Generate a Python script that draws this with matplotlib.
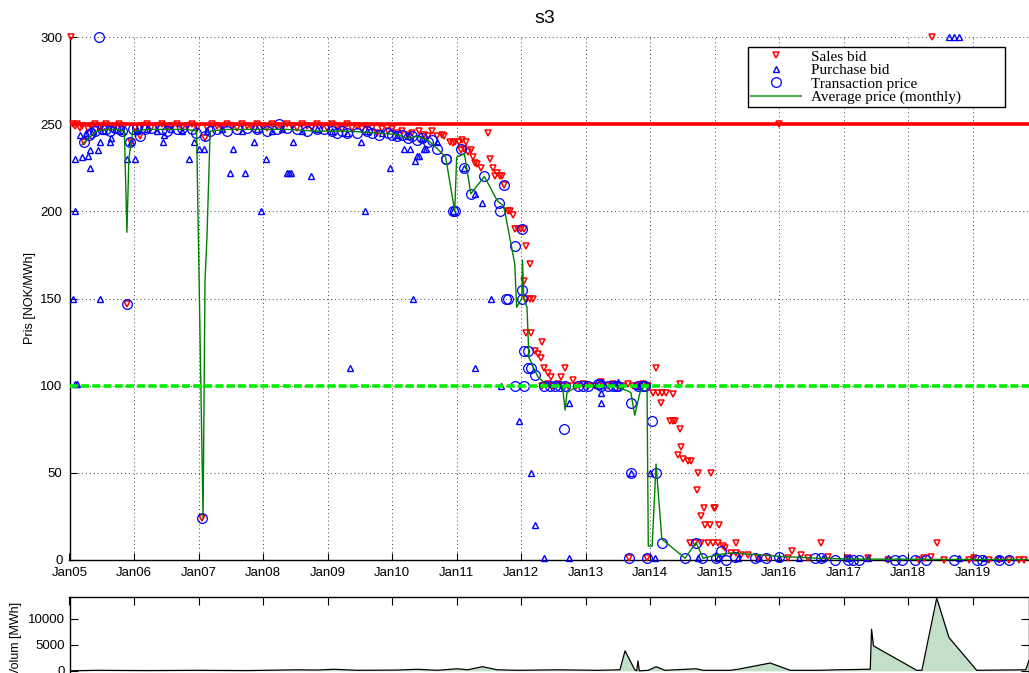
import matplotlib
matplotlib.use("Agg")
import matplotlib.pyplot as plt
from matplotlib.lines import Line2D

plt.rcParams['font.family'] = ['Liberation Sans', 'DejaVu Sans']

# ---------------- data ----------------
years = list(range(2005, 2020))
year_labels = ["Jan%02d" % (y % 100) for y in years]

sales_t = [2005.03, 2005.05, 2005.09, 2005.12, 2005.16, 2005.20, 2005.23, 2005.28, 2005.34, 2005.39, 2005.45, 2005.50,
           2005.57, 2005.62, 2005.70, 2005.76, 2005.85, 2005.89, 2005.96, 2006.01, 2006.09, 2006.12, 2006.20, 2006.27,
           2006.35, 2006.43, 2006.51, 2006.58, 2006.66, 2006.74, 2006.82, 2006.90, 2006.97, 2007.05, 2007.10, 2007.13,
           2007.21, 2007.28, 2007.36, 2007.44, 2007.52, 2007.59, 2007.67, 2007.75, 2007.83, 2007.91, 2007.98, 2008.06,
           2008.14, 2008.22, 2008.29, 2008.37, 2008.45, 2008.53, 2008.60, 2008.68, 2008.76, 2008.84, 2008.92, 2008.99,
           2009.07, 2009.15, 2009.23, 2009.30, 2009.38, 2009.46, 2009.54, 2009.61, 2009.69, 2009.77, 2009.85, 2009.93,
           2010.00, 2010.08, 2010.16, 2010.24, 2010.31, 2010.42, 2010.50, 2010.55, 2010.62, 2010.70, 2010.78, 2010.81,
           2010.89, 2010.94, 2010.98, 2011.03, 2011.09, 2011.14, 2011.06, 2011.12, 2011.17, 2011.22, 2011.25, 2011.29,
           2011.32, 2011.37, 2011.48, 2011.51, 2011.56, 2011.60, 2011.63, 2011.67, 2011.70, 2011.74, 2011.79, 2011.82,
           2011.87, 2011.90, 2011.95, 2011.99, 2012.04, 2012.07, 2012.13, 2012.05, 2012.07, 2012.13, 2012.19, 2012.07,
           2012.15, 2012.32, 2012.21, 2012.26, 2012.30, 2012.36, 2012.41, 2012.46, 2012.68, 2012.61, 2012.80, 2012.33,
           2012.41, 2012.49, 2012.57, 2012.64, 2012.72, 2012.85, 2012.96, 2013.03, 2013.14, 2013.24, 2013.34, 2013.42,
           2013.50, 2013.58, 2013.65, 2013.73, 2013.81, 2013.89, 2013.97, 2014.09, 2014.46, 2014.04, 2014.12, 2014.18,
           2014.25, 2014.35, 2014.17, 2014.31, 2014.35, 2014.38, 2014.46, 2014.48, 2014.43, 2014.51, 2014.59, 2014.63,
           2014.74, 2014.94, 2014.73, 2014.84, 2014.99, 2015.01, 2014.79, 2014.85, 2014.93, 2015.07, 2014.62, 2014.70,
           2014.79, 2014.90, 2014.98, 2015.05, 2015.12, 2015.16, 2015.33, 2015.25, 2015.33, 2015.41, 2015.52, 2016.19,
           2016.34, 2016.64, 2018.44, 2018.35, 2018.36, 2015.99, 2013.67, 2013.95, 2015.67, 2015.83, 2016.14, 2016.45,
           2016.76, 2017.07, 2017.38, 2017.69, 2018.16, 2018.24, 2018.55, 2018.94, 2019.01, 2019.25, 2019.40, 2019.56,
           2019.71, 2019.79]
sales_p = [300, 250, 249, 250, 248, 249, 240, 247, 249, 250, 248, 249,
           250, 248, 249, 250, 249, 147, 240, 248, 243, 249, 250, 248,
           249, 250, 248, 249, 250, 248, 249, 250, 248, 24, 242, 248,
           250, 249, 248, 250, 249, 248, 250, 249, 248, 250, 249, 248,
           250, 249, 248, 250, 249, 248, 250, 249, 248, 250, 249, 248,
           250, 249, 247, 250, 248, 249, 247, 249, 248, 245, 247, 246,
           247, 245, 246, 244, 245, 246, 244, 243, 246, 243, 244, 243,
           240, 239, 240, 240, 241, 240, 235, 236, 234, 235, 231, 228,
           227, 225, 245, 230, 225, 220, 222, 220, 220, 215, 200, 200,
           198, 190, 190, 190, 190, 180, 170, 160, 150, 150, 150, 130,
           130, 125, 120, 118, 116, 110, 107, 105, 110, 105, 103, 100,
           101, 100, 101, 100, 100, 100, 101, 100, 100, 102, 100, 101,
           100, 100, 101, 100, 100, 101, 100, 110, 101, 96, 96, 96,
           96, 95, 90, 80, 80, 80, 75, 65, 60, 58, 57, 57,
           50, 50, 40, 30, 30, 30, 25, 20, 20, 20, 10, 10,
           10, 10, 10, 10, 8, 7, 10, 4, 4, 3, 3, 5,
           3, 10, 10, 2, 300, 250, 1, 1, 1, 1, 1, 1,
           2, 1, 1, 0, 0, 1, 0, 0, 1, 0, 0, 0,
           0, 0]

purchase_t = [2005.09, 2005.06, 2005.48, 2005.08, 2005.12, 2005.09, 2005.20, 2005.28, 2005.31, 2005.31, 2005.44, 2005.47,
              2005.62, 2005.65, 2005.89, 2006.01, 2005.96, 2006.45, 2006.46, 2006.85, 2006.93, 2007.00, 2007.08, 2007.53,
              2007.49, 2007.72, 2007.86, 2008.05, 2008.37, 2008.40, 2008.43, 2008.74, 2008.46, 2009.51, 2009.97, 2010.19,
              2010.35, 2010.38, 2010.50, 2010.28, 2007.97, 2009.58, 2009.34, 2010.33, 2010.94,
              2005.16, 2005.26, 2005.36, 2005.54, 2005.70, 2005.81, 2006.04, 2006.20, 2006.35, 2006.58, 2006.74, 2007.13,
              2007.36, 2007.67, 2007.91, 2008.14, 2008.29, 2008.60, 2008.84, 2009.07, 2009.30, 2009.61, 2009.85, 2010.08,
              2010.24, 2010.47, 2010.70,
              2010.42, 2010.52, 2011.11, 2011.39, 2011.29, 2011.53, 2011.28, 2011.68, 2011.96, 2012.15, 2012.21, 2012.35,
              2012.74, 2012.74, 2013.24, 2013.24, 2013.70, 2014.00, 2014.07, 2013.50, 2013.81, 2014.74, 2015.05, 2015.36,
              2015.67, 2015.99, 2016.30, 2016.68, 2017.07, 2017.38, 2017.69, 2018.63, 2018.70, 2018.78, 2018.78, 2019.17,
              2019.40]
purchase_p = [200, 150, 150, 101, 101, 230, 231, 232, 225, 235, 235, 240,
              240, 242, 230, 230, 240, 240, 244, 230, 240, 236, 236, 236,
              222, 222, 240, 230, 222, 222, 222, 220, 240, 240, 225, 236,
              229, 232, 236, 236, 200, 200, 110, 150, 200,
              244, 245, 246, 246, 247, 246, 246, 247, 246, 247, 246, 246,
              247, 246, 247, 246, 247, 246, 247, 246, 245, 246, 245, 244,
              243, 242, 240,
              232, 236, 225, 205, 210, 150, 110, 100, 80, 50, 20, 1,
              1, 90, 96, 90, 50, 50, 1, 102, 100, 1, 1, 1,
              1, 1, 1, 1, 1, 1, 1, 300, 300, 300, 1, 1,
              1]

trans_t = [2005.23, 2005.30, 2005.34, 2005.39, 2005.45, 2005.50, 2005.57, 2005.62, 2005.70, 2005.76, 2005.81, 2005.89,
           2005.93, 2005.98, 2006.04, 2006.09, 2006.17, 2006.27, 2006.43, 2006.51, 2006.66, 2006.74, 2006.90, 2006.96,
           2007.05, 2007.10, 2007.18, 2007.28, 2007.44, 2007.59, 2007.75, 2007.91, 2008.06, 2008.22, 2008.25, 2008.37,
           2008.53, 2008.68, 2008.84, 2008.95, 2009.07, 2009.15, 2009.23, 2009.30, 2009.46, 2009.61, 2009.69, 2009.80,
           2009.93, 2010.00, 2010.08, 2010.16, 2010.24, 2010.31, 2010.39, 2010.47, 2010.55, 2010.62, 2010.70, 2010.83,
           2010.84, 2010.94, 2010.98, 2011.06, 2011.12, 2011.22, 2011.43, 2011.65, 2011.67, 2011.74, 2011.76, 2011.79,
           2011.90, 2012.01, 2012.01, 2012.01, 2012.05, 2012.10, 2012.10, 2012.15, 2012.22, 2011.90, 2012.05, 2012.36,
           2012.44, 2012.52, 2012.60, 2012.68, 2012.88, 2012.96, 2013.03, 2013.19, 2013.22, 2013.34, 2013.42, 2013.50,
           2012.66, 2013.70, 2013.70, 2014.09, 2014.03, 2014.18, 2013.67, 2013.95, 2014.54, 2014.71, 2014.80, 2015.02,
           2015.10, 2015.18, 2015.32, 2015.63, 2015.80, 2015.99, 2016.56, 2016.64, 2016.87, 2017.07, 2017.15, 2017.23,
           2017.80, 2017.90, 2018.11, 2018.28, 2018.70, 2019.06, 2019.14, 2019.40, 2019.56, 2013.81, 2013.89, 2013.92,
           2013.47, 2013.24]
trans_p = [240, 244, 245, 246, 300, 247, 247, 246, 248, 247, 246, 147,
           240, 247, 248, 243, 247, 248, 247, 246, 247, 248, 247, 245,
           24, 243, 246, 247, 246, 247, 248, 247, 246, 247, 250, 248,
           247, 246, 247, 247, 246, 245, 246, 245, 245, 246, 245, 244,
           245, 244, 243, 244, 242, 243, 241, 242, 240, 241, 236, 230,
           230, 200, 200, 236, 225, 210, 220, 205, 200, 215, 150, 150,
           180, 190, 155, 150, 120, 120, 110, 110, 106, 100, 100, 100,
           100, 100, 100, 100, 100, 100, 100, 101, 101, 100, 100, 100,
           75, 90, 50, 50, 80, 10, 1, 1, 1, 10, 1, 1,
           5, 0, 2, 1, 1, 2, 1, 1, 0, 0, 0, 0,
           0, 0, 0, 0, 0, 0, 0, 0, 0, 100, 100, 100,
           100, 100]

avg_t = [2005.19, 2005.30, 2005.42, 2005.57, 2005.73, 2005.85, 2005.89, 2005.92, 2005.98, 2006.20, 2006.51, 2006.82,
         2006.97, 2007.07, 2007.10, 2007.13, 2007.18, 2007.44, 2007.91, 2008.37, 2008.84, 2009.30, 2009.77, 2010.08,
         2010.24, 2010.39, 2010.55, 2010.70, 2010.83, 2010.97, 2011.00, 2011.12, 2011.22, 2011.43, 2011.63, 2011.73,
         2011.90, 2011.93, 2012.01, 2012.02, 2012.04, 2012.09, 2012.12, 2012.26, 2012.41, 2012.64, 2012.68, 2012.71,
         2012.88, 2013.14, 2013.42, 2013.65, 2013.70, 2013.76, 2013.84, 2013.92, 2013.95, 2013.97, 2014.03, 2014.09,
         2014.18, 2014.54, 2014.71, 2014.82, 2015.05, 2015.25, 2015.67, 2016.03, 2016.61, 2017.23, 2017.85, 2018.63,
         2019.85]
avg_p = [238, 242, 246, 247, 247, 246, 188, 230, 246, 247, 247, 247,
         246, 24, 160, 185, 246, 247, 247, 247, 246, 246, 245, 244,
         242, 243, 241, 236, 231, 200, 231, 233, 210, 220, 206, 203,
         170, 145, 150, 172, 150, 145, 116, 105, 100, 100, 86, 96,
         100, 100, 100, 97, 96, 83, 96, 101, 101, 8, 8, 55,
         12, 1, 10, 1, 3, 4, 3, 2, 1, 0.5, 0.5, 0.3,
         0.3]

vol_t = [2005.00, 2005.42, 2006.20, 2006.97, 2007.75, 2008.53, 2008.84, 2009.10, 2009.46, 2010.08, 2010.39, 2010.70,
         2011.01, 2011.17, 2011.40, 2011.63, 2011.95, 2012.57, 2013.19, 2013.53, 2013.61, 2013.76, 2013.79, 2013.81,
         2013.83, 2013.97, 2014.09, 2014.23, 2014.71, 2014.82, 2015.24, 2015.36, 2015.86, 2016.17, 2016.61, 2016.92,
         2017.38, 2017.41, 2017.43, 2017.46, 2018.13, 2018.21, 2018.44, 2018.63, 2019.06, 2019.82, 2019.87]
vol_v = [0, 100, 50, 100, 50, 200, 150, 300, 100, 150, 300, 100,
         400, 200, 800, 200, 100, 200, 100, 200, 3850, 200, 0, 1900,
         0, 100, 800, 100, 400, 100, 100, 300, 1500, 100, 100, 200,
         300, 300, 8000, 4800, 100, 100, 14000, 6400, 100, 200, 2000]

max_price = 250
min_price = 100
price_ticks = [0, 50, 100, 150, 200, 250, 300]
vol_ticks = [0, 5000, 10000]

# ---------------- figure ----------------
W, H = 1029, 673
fig = plt.figure(figsize=(W / 100, H / 100), dpi=100)

x0 = 2005.0
x1 = 2019.87
ax_left_px = 69.5
ax = fig.add_axes([ax_left_px / W, 1 - 560 / H, (W - ax_left_px) / W, (560 - 37) / H])
ax.set_xlim(x0, x1)
ax.set_ylim(0, 300)

ax.plot(sales_t, sales_p, linestyle='none', marker='v', markersize=4.8, markerfacecolor='none',
        markeredgecolor='red', markeredgewidth=1.1, zorder=3, clip_on=False, label='Sales bid')
ax.plot(purchase_t, purchase_p, linestyle='none', marker='^', markersize=4.8, markerfacecolor='none',
        markeredgecolor='blue', markeredgewidth=1.0, zorder=3, clip_on=False, label='Purchase bid')
ax.plot(trans_t, trans_p, linestyle='none', marker='o', markersize=7.0, markerfacecolor='none',
        markeredgecolor='blue', markeredgewidth=0.9, zorder=4, clip_on=False, label='Transaction price')
ax.plot(avg_t, avg_p, color='green', linewidth=1.0, zorder=5, label='Average price (monthly)')

ax.axhline(max_price, color='red', linewidth=2.6, zorder=6)
gl = ax.axhline(min_price, color='#00ee00', linewidth=2.6, zorder=6)
gl.set_dashes([2.2, 0.9])

ax.set_xticks(years)
ax.set_xticklabels(year_labels)
ax.set_yticks(price_ticks)
ax.tick_params(direction='in', length=5, width=0.8, labelsize=9.5, colors='black')
ax.tick_params(axis='x', pad=5)
ax.tick_params(axis='y', pad=5)
ax.grid(True, linestyle=(0, (1, 3)), color='#444444', linewidth=0.7)
for s in ['top', 'right']:
    ax.spines[s].set_visible(False)
ax.spines['left'].set_linewidth(1.0)
ax.spines['bottom'].set_linewidth(1.0)
ax.set_ylabel('Pris [NOK/MWh]', fontsize=9, labelpad=3)
ax.set_title('s3', fontsize=14, x=(545 - ax_left_px) / (W - ax_left_px), pad=10)

handles = [
    Line2D([], [], linestyle='none', marker='v', markersize=4.8, markerfacecolor='none',
           markeredgecolor='red', markeredgewidth=1.1),
    Line2D([], [], linestyle='none', marker='^', markersize=4.8, markerfacecolor='none',
           markeredgecolor='blue', markeredgewidth=1.0),
    Line2D([], [], linestyle='none', marker='o', markersize=7.0, markerfacecolor='none',
           markeredgecolor='blue', markeredgewidth=0.9),
    Line2D([], [], color='#5aad5a', linewidth=1.6),
]
labels = ['Sales bid', 'Purchase bid', 'Transaction price', 'Average price (monthly)']
leg = fig.legend(handles, labels, loc='upper left',
                 bbox_to_anchor=(748 / W, 1 - 47 / H, 257 / W, 0.0), mode='expand',
                 prop={'family': 'Liberation Serif', 'size': 11}, labelspacing=-0.02,
                 handlelength=3.3, handletextpad=0.6, borderpad=0.2, borderaxespad=0,
                 frameon=True, fancybox=False, framealpha=1, edgecolor='black')
leg.get_frame().set_linewidth(1.0)

# volume axes (cut off at the bottom of the figure)
v_lo, v_hi = -2000, 14200
px_per_unit = 26 / 5000
vh_px = (v_hi - v_lo) * px_per_unit
axv = fig.add_axes([ax_left_px / W, 1 - (597 + vh_px) / H, (W - ax_left_px) / W, vh_px / H])
axv.set_xlim(x0, x1)
axv.set_ylim(v_lo, v_hi)
axv.fill_between(vol_t, 0, vol_v, color='#c3dfc7', linewidth=0)
axv.plot(vol_t, vol_v, color='black', linewidth=0.9)
axv.set_xticks(years)
axv.set_xticklabels([])
axv.set_yticks(vol_ticks)
axv.tick_params(direction='in', length=6, width=0.8, labelsize=9.5, top=True, right=True)
axv.set_ylabel('Volum [MWh]', fontsize=9, labelpad=4)
for s in axv.spines.values():
    s.set_linewidth(1.0)

fig.savefig('out.png', dpi=100)
